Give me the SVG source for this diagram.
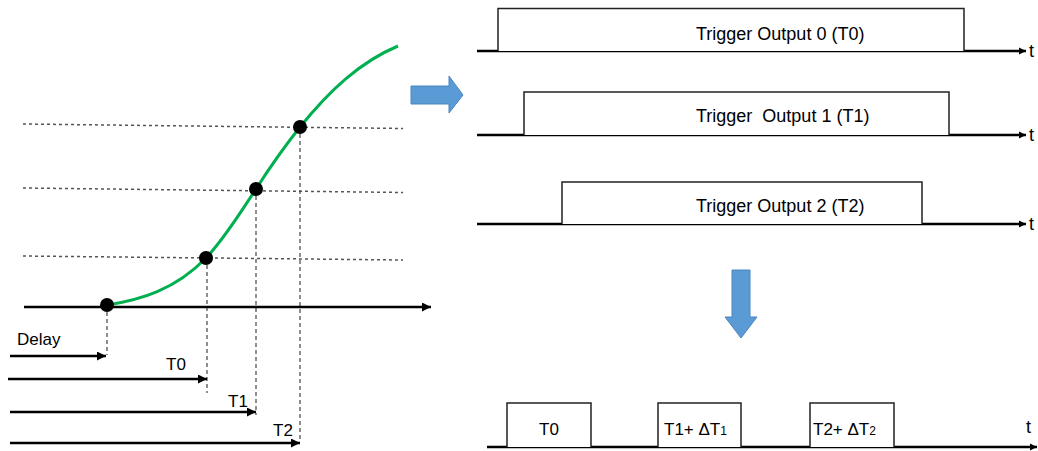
<svg xmlns="http://www.w3.org/2000/svg" width="1038" height="451" viewBox="0 0 1038 451">
<style>
text{font-family:"Liberation Sans",Arial,sans-serif;fill:#000}
.lbl{font-size:17px}
.trg{font-size:18px;white-space:pre}
.axis{stroke:#000;stroke-width:2.5;fill:none}
.pulse{stroke:#222;stroke-width:1.5;fill:#fff}
.hdot{stroke:#555;stroke-width:1.5;stroke-dasharray:3 3;fill:none}
.vdash{stroke:#444;stroke-width:1.2;stroke-dasharray:4 3;fill:none}
.dot{fill:#000}
.blue{fill:#5B9BD5;stroke:#4A86BF;stroke-width:1}
</style>
<defs>
<marker id="ah" viewBox="0 0 10 10" refX="10" refY="5" markerWidth="4" markerHeight="3.6" markerUnits="strokeWidth" orient="auto">
<path d="M0,0 L10,5 L0,10 Z" fill="#000"/>
</marker>
<marker id="ahs" viewBox="0 0 10 10" refX="10" refY="5" markerWidth="3" markerHeight="3" markerUnits="strokeWidth" orient="auto">
<path d="M0,0 L10,5 L0,10 Z" fill="#000"/>
</marker>
</defs>

<g id="curve-plot">
<line class="hdot" x1="23" y1="124" x2="403" y2="128.5"/>
<line class="hdot" x1="23" y1="188" x2="403" y2="192.5"/>
<line class="hdot" x1="23" y1="256" x2="403" y2="260"/>
<line class="vdash" x1="107" y1="305" x2="107" y2="355"/>
<line class="vdash" x1="207" y1="258" x2="207" y2="393"/>
<line class="vdash" x1="256" y1="189" x2="256" y2="415"/>
<line class="vdash" x1="300" y1="127" x2="300" y2="441"/>
<path d="M107,305 C140,300 175,290 206,258 C225,238 240,213 256,189 C270,167 285,146 300,127 C330,90 360,62 398,46" fill="none" stroke="#00B050" stroke-width="3"/>
<circle class="dot" cx="107" cy="305" r="7"/>
<circle class="dot" cx="206" cy="258" r="7"/>
<circle class="dot" cx="256" cy="189" r="7"/>
<circle class="dot" cx="300" cy="127" r="7"/>
</g>

<g id="connectors">
<line class="axis" x1="24" y1="307" x2="431" y2="307" marker-end="url(#ah)"/>
<line class="axis" x1="10" y1="356" x2="106" y2="356" marker-end="url(#ah)"/>
<line class="axis" x1="8" y1="379" x2="207" y2="379" marker-end="url(#ah)"/>
<line class="axis" x1="10" y1="412" x2="256" y2="412" marker-end="url(#ah)"/>
<line class="axis" x1="10" y1="443" x2="300" y2="443" marker-end="url(#ah)"/>
<line class="axis" x1="477" y1="51" x2="1026" y2="51" marker-end="url(#ahs)"/>
<line class="axis" x1="477" y1="135" x2="1026" y2="135" marker-end="url(#ahs)"/>
<line class="axis" x1="477" y1="224" x2="1026" y2="224" marker-end="url(#ahs)"/>
<line class="axis" x1="487" y1="447" x2="1037" y2="447" marker-end="url(#ahs)"/>
</g>

<g id="left-labels">
<text class="lbl" x="17" y="345">Delay</text>
<text class="lbl" x="166" y="370">T0</text>
<text class="lbl" x="228" y="407">T1</text>
<text class="lbl" x="273" y="436">T2</text>
</g>

<g id="arrow-right">
<path class="blue" d="M411,86 L449,86 L449,76 L463,95 L449,113 L449,104 L411,104 Z"/>
</g>
<g id="arrow-down">
<path class="blue" d="M732,270 L750,270 L750,317 L757,317 L741,338 L725,317 L732,317 Z"/>
</g>

<g id="trigger0">
<path class="pulse" d="M498,51 L498,8.5 L964,8.5 L964,51" fill="none"/>
<text class="trg" x="696" y="40">Trigger Output 0 (T0)</text>
<text class="trg" x="1029" y="57">t</text>
</g>
<g id="trigger1">
<path class="pulse" d="M524,135 L524,92 L949,92 L949,135" fill="none"/>
<text class="trg" x="696" y="122">Trigger  Output 1 (T1)</text>
<text class="trg" x="1029" y="141">t</text>
</g>
<g id="trigger2">
<path class="pulse" d="M562,224 L562,182 L922,182 L922,224" fill="none"/>
<text class="trg" x="696" y="212">Trigger Output 2 (T2)</text>
<text class="trg" x="1029" y="230">t</text>
</g>

<g id="combined">
<path class="pulse" d="M507,447 L507,403 L591,403 L591,447" fill="none"/>
<path class="pulse" d="M658,447 L658,403 L741,403 L741,447" fill="none"/>
<path class="pulse" d="M810,447 L810,403 L894,403 L894,447" fill="none"/>
<text class="lbl" x="549" y="435" text-anchor="middle">T0</text>
<text class="lbl" x="664" y="435">T1+ ΔT<tspan font-size="12">1</tspan></text>
<text class="lbl" x="813" y="435">T2+ ΔT<tspan font-size="12">2</tspan></text>
<text class="trg" x="1026" y="433">t</text>
</g>
</svg>
